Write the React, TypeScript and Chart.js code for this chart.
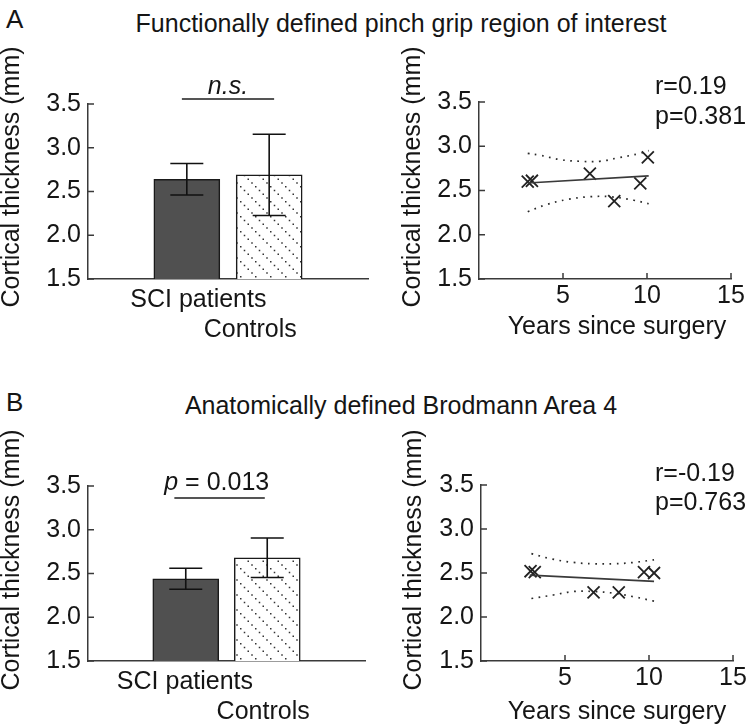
import React, { useEffect, useRef } from 'react';
import { Chart, registerables } from 'chart.js';

Chart.register(...registerables);

const FONT = '"Liberation Sans", Arial, Helvetica, sans-serif';
const INK = '#151515';
const AXIS = '#3a3a3a';
const DARK = '#505050';

// ---------- data ----------
const groups = ['SCI patients', 'Controls'];
const barPos = [1, 2];
const yTicks = [1.5, 2.0, 2.5, 3.0, 3.5];
const yearTicks = [5, 10, 15];

// A: functionally defined pinch grip ROI
const roiMeans = [2.64, 2.69];
const roiErrs = [0.18, 0.465];
const roiLabelPos = [1.14, 1.77];
const roiYears = [2.9, 3.15, 6.6, 8.05, 9.6, 10.05];
const roiThick = [2.6, 2.61, 2.69, 2.38, 2.58, 2.875];
const roiFitX = [2.9, 10.1];
const roiFitY = [2.585, 2.665];
const roiUpperX = [2.9, 3.6, 4.8, 6.0, 7.2, 8.3, 9.6, 10.1];
const roiUpperY = [2.92, 2.9, 2.85, 2.83, 2.83, 2.87, 2.92, 2.95];
const roiLowerX = [2.9, 4.0, 5.3, 6.6, 7.8, 9.2, 10.1];
const roiLowerY = [2.26, 2.34, 2.4, 2.43, 2.43, 2.39, 2.35];
const roiStats = ['r=0.19', 'p=0.381'];

// B: anatomically defined BA4
const ba4Means = [2.44, 2.68];
const ba4Errs = [0.12, 0.225];
const ba4LabelPos = [0.99, 1.95];
const ba4Years = [2.95, 3.2, 6.7, 8.2, 9.7, 10.3];
const ba4Thick = [2.52, 2.51, 2.28, 2.28, 2.51, 2.5];
const ba4FitX = [2.9, 10.3];
const ba4FitY = [2.475, 2.405];
const ba4UpperX = [3.0, 4.2, 5.5, 6.7, 7.9, 9.1, 10.3];
const ba4UpperY = [2.72, 2.66, 2.62, 2.605, 2.605, 2.62, 2.65];
const ba4LowerX = [3.0, 4.3, 5.5, 6.7, 7.9, 9.1, 10.3];
const ba4LowerY = [2.21, 2.25, 2.29, 2.29, 2.27, 2.23, 2.18];
const ba4Stats = ['r=-0.19', 'p=0.763'];

const Y_TITLE = 'Cortical thickness (mm)';
const X_TITLE = 'Years since surgery';

const zip = (xs: number[], ys: number[]) => xs.map((x, i) => ({ x, y: ys[i] }));

function font(size = 25, italic = false) {
  return `${italic ? 'italic ' : ''}${size}px ${FONT}`;
}

type TextPart = { t: string; italic?: boolean };
type TextItem = { parts: TextPart[]; x: number; y: number; rot?: number; align?: 'left' | 'center' };

function drawTexts(ctx: CanvasRenderingContext2D, items: TextItem[]) {
  ctx.save();
  ctx.fillStyle = INK;
  ctx.textBaseline = 'middle';
  ctx.textAlign = 'left';
  items.forEach((it) => {
    ctx.save();
    ctx.translate(it.x, it.y);
    if (it.rot) ctx.rotate(it.rot);
    let total = 0;
    it.parts.forEach((p) => {
      ctx.font = font(25, p.italic);
      total += ctx.measureText(p.t).width;
    });
    let cx = it.align === 'left' ? 0 : -total / 2;
    it.parts.forEach((p) => {
      ctx.font = font(25, p.italic);
      ctx.fillText(p.t, cx, 0);
      cx += ctx.measureText(p.t).width;
    });
    ctx.restore();
  });
  ctx.restore();
}

function makeHatch(ctx: CanvasRenderingContext2D) {
  const c = document.createElement('canvas');
  c.width = 15;
  c.height = 15;
  const g = c.getContext('2d')!;
  g.fillStyle = '#ffffff';
  g.fillRect(0, 0, 15, 15);
  g.fillStyle = '#333333';
  for (let i = 0; i < 4; i++) {
    const p = i * 3.75;
    g.fillRect(p, p, 1.5, 1.5);
  }
  return ctx.createPattern(c, 'repeat')!;
}

type Layout = { padTop: number; padRight: number; yW: number; xH: number };

function inwardTicks(xt: number[] | null) {
  return {
    id: 'inwardTicks',
    afterDraw(chart: any) {
      const { ctx, chartArea: a, scales } = chart;
      ctx.save();
      ctx.strokeStyle = AXIS;
      ctx.lineWidth = 1.5;
      ctx.beginPath();
      yTicks.forEach((v) => {
        const py = scales.y.getPixelForValue(v);
        ctx.moveTo(a.left, py);
        ctx.lineTo(a.left + 6, py);
      });
      if (xt) {
        xt.forEach((v) => {
          const px = scales.x.getPixelForValue(v);
          ctx.moveTo(px, a.bottom);
          ctx.lineTo(px, a.bottom - 6);
        });
      }
      ctx.stroke();
      ctx.restore();
    },
  };
}

function yScale(L: Layout) {
  return {
    type: 'linear',
    min: 1.5,
    max: 3.5,
    beginAtZero: false,
    afterBuildTicks: (s: any) => {
      s.ticks = yTicks.map((v) => ({ value: v }));
    },
    afterFit: (s: any) => {
      s.width = L.yW;
    },
    ticks: {
      callback: (v: number) => Number(v).toFixed(1),
      font: { family: FONT, size: 25 },
      color: INK,
      padding: 7,
    },
    grid: { display: false, drawTicks: false },
    border: { display: true, color: AXIS, width: 1.5 },
  };
}

function barConfig(
  ctx: CanvasRenderingContext2D,
  means: number[],
  errs: number[],
  labelPos: number[],
  L: Layout,
  sig: { x0: number; x1: number; lineY: number; textX: number; textY: number; parts: TextPart[] },
  yTitlePos: { x: number; y: number }
) {
  const hatch = makeHatch(ctx);
  const errPlugin = {
    id: 'errbars',
    afterDatasetsDraw(chart: any) {
      const { ctx: c, scales } = chart;
      c.save();
      c.strokeStyle = '#111';
      c.lineWidth = 1.6;
      const cap = 16.5;
      barPos.forEach((p, i) => {
        const px = scales.x.getPixelForValue(p);
        const hi = scales.y.getPixelForValue(means[i] + errs[i]);
        const lo = scales.y.getPixelForValue(means[i] - errs[i]);
        c.beginPath();
        c.moveTo(px, hi);
        c.lineTo(px, lo);
        c.moveTo(px - cap, hi);
        c.lineTo(px + cap, hi);
        c.moveTo(px - cap, lo);
        c.lineTo(px + cap, lo);
        c.stroke();
      });
      // significance bar
      c.strokeStyle = '#555';
      c.lineWidth = 2;
      c.beginPath();
      c.moveTo(scales.x.getPixelForValue(sig.x0), sig.lineY);
      c.lineTo(scales.x.getPixelForValue(sig.x1), sig.lineY);
      c.stroke();
      c.restore();
      drawTexts(c, [
        { parts: sig.parts, x: scales.x.getPixelForValue(sig.textX), y: sig.textY },
        { parts: [{ t: Y_TITLE }], x: yTitlePos.x, y: yTitlePos.y, rot: -Math.PI / 2 },
      ]);
    },
  };
  return {
    type: 'bar',
    data: {
      datasets: [
        {
          data: zip(barPos, means),
          backgroundColor: [DARK, hatch],
          borderColor: '#1a1a1a',
          borderWidth: 1.5,
          borderSkipped: false,
          barThickness: 66,
        },
      ],
    },
    options: {
      responsive: false,
      animation: false,
      devicePixelRatio: 1,
      events: [],
      layout: { padding: { top: L.padTop, right: L.padRight, left: 0, bottom: 0 } },
      plugins: { legend: { display: false }, tooltip: { enabled: false } },
      scales: {
        x: {
          type: 'linear',
          min: -0.2,
          max: 3.2,
          offset: false,
          afterBuildTicks: (s: any) => {
            s.ticks = labelPos.map((v) => ({ value: v }));
          },
          afterFit: (s: any) => {
            s.height = L.xH;
          },
          ticks: {
            callback: (_v: number, i: number) => (i === 0 ? groups[0] : ['', groups[1]]),
            font: { family: FONT, size: 25, lineHeight: 1.2 },
            color: INK,
            padding: 6,
            autoSkip: false,
            maxRotation: 0,
          },
          grid: { display: false, drawTicks: false },
          border: { display: true, color: AXIS, width: 1.5 },
        },
        y: yScale(L),
      },
    },
    plugins: [errPlugin, inwardTicks(null)],
  };
}

function scatterConfig(
  d: {
    years: number[];
    thick: number[];
    fitX: number[];
    fitY: number[];
    upX: number[];
    upY: number[];
    loX: number[];
    loY: number[];
    stats: string[];
  },
  L: Layout,
  pos: { yTitle: { x: number; y: number }; xTitle: { x: number; y: number }; stats: { x: number; y0: number; y1: number } }
) {
  const textPlugin = {
    id: 'scatterTexts',
    afterDraw(chart: any) {
      drawTexts(chart.ctx, [
        { parts: [{ t: Y_TITLE }], x: pos.yTitle.x, y: pos.yTitle.y, rot: -Math.PI / 2 },
        { parts: [{ t: X_TITLE }], x: pos.xTitle.x, y: pos.xTitle.y },
        { parts: [{ t: d.stats[0] }], x: pos.stats.x, y: pos.stats.y0, align: 'left' },
        { parts: [{ t: d.stats[1] }], x: pos.stats.x, y: pos.stats.y1, align: 'left' },
      ]);
    },
  };
  const dotted = {
    showLine: true,
    borderColor: '#2a2a2a',
    borderWidth: 1.7,
    borderDash: [1.7, 5.5],
    pointRadius: 0,
    tension: 0.4,
    fill: false,
  };
  return {
    type: 'scatter',
    data: {
      datasets: [
        { ...dotted, data: zip(d.upX, d.upY) },
        { ...dotted, data: zip(d.loX, d.loY) },
        {
          data: zip(d.fitX, d.fitY),
          showLine: true,
          borderColor: '#3a3a3a',
          borderWidth: 1.7,
          pointRadius: 0,
          fill: false,
        },
        {
          data: zip(d.years, d.thick),
          showLine: false,
          pointStyle: 'crossRot',
          pointRadius: 8.5,
          borderColor: '#222',
          backgroundColor: '#222',
          pointBorderWidth: 1.8,
          borderWidth: 1.8,
        },
      ],
    },
    options: {
      responsive: false,
      animation: false,
      devicePixelRatio: 1,
      events: [],
      layout: { padding: { top: L.padTop, right: L.padRight, left: 0, bottom: 0 } },
      plugins: { legend: { display: false }, tooltip: { enabled: false } },
      scales: {
        x: {
          type: 'linear',
          min: 0,
          max: 15,
          afterBuildTicks: (s: any) => {
            s.ticks = yearTicks.map((v) => ({ value: v }));
          },
          afterFit: (s: any) => {
            s.height = L.xH;
          },
          ticks: {
            callback: (v: number) => String(v),
            font: { family: FONT, size: 25, lineHeight: 1.2 },
            color: INK,
            padding: 2.5,
            autoSkip: false,
            maxRotation: 0,
          },
          grid: { display: false, drawTicks: false },
          border: { display: true, color: AXIS, width: 1.5 },
        },
        y: yScale(L),
      },
    },
    plugins: [textPlugin, inwardTicks(yearTicks)],
  };
}

function ChartBox(props: { left: number; top: number; width: number; height: number; make: (ctx: CanvasRenderingContext2D) => any }) {
  const ref = useRef<HTMLCanvasElement>(null);
  useEffect(() => {
    const cv = ref.current!;
    const chart = new Chart(cv, props.make(cv.getContext('2d')!));
    return () => chart.destroy();
  }, []);
  return (
    <canvas
      ref={ref}
      width={props.width}
      height={props.height}
      style={{ position: 'absolute', left: props.left, top: props.top, width: props.width, height: props.height }}
    />
  );
}

const textStyle: React.CSSProperties = {
  position: 'absolute',
  fontFamily: FONT,
  fontSize: 25,
  lineHeight: '30px',
  height: 30,
  color: INK,
  whiteSpace: 'nowrap',
};

export default function App() {
  const TL: Layout = { padTop: 68, padRight: 7, yW: 88, xH: 101 };
  const TR: Layout = { padTop: 66, padRight: 19, yW: 104, xH: 101 };
  const BL: Layout = { padTop: 68, padRight: 10, yW: 88, xH: 66 };
  const BR: Layout = { padTop: 67, padRight: 17, yW: 106, xH: 66 };
  return (
    <div style={{ position: 'absolute', left: 0, top: 0, width: 750, height: 727, background: '#fff', overflow: 'hidden' }}>
      <div style={{ ...textStyle, left: 6, top: 4, fontSize: 26 }}>A</div>
      <div style={{ ...textStyle, left: 101, width: 600, top: 8, textAlign: 'center' }}>
        Functionally defined pinch grip region of interest
      </div>
      <div style={{ ...textStyle, left: 6, top: 387, fontSize: 26 }}>B</div>
      <div style={{ ...textStyle, left: 101, width: 600, top: 390, textAlign: 'center' }}>
        Anatomically defined Brodmann Area 4
      </div>
      <ChartBox
        left={0}
        top={36}
        width={375}
        height={344}
        make={(ctx) =>
          barConfig(
            ctx,
            roiMeans,
            roiErrs,
            roiLabelPos,
            TL,
            { x0: 0.94, x1: 2.06, lineY: 63, textX: 1.5, textY: 51, parts: [{ t: 'n.s.', italic: true }] },
            { x: 12, y: 141 }
          )
        }
      />
      <ChartBox
        left={375}
        top={36}
        width={375}
        height={344}
        make={() =>
          scatterConfig(
            { years: roiYears, thick: roiThick, fitX: roiFitX, fitY: roiFitY, upX: roiUpperX, upY: roiUpperY, loX: roiLowerX, loY: roiLowerY, stats: roiStats },
            TR,
            { yTitle: { x: 38, y: 141 }, xTitle: { x: 242, y: 291 }, stats: { x: 280, y0: 51, y1: 81 } }
          )
        }
      />
      <ChartBox
        left={0}
        top={418}
        width={375}
        height={309}
        make={(ctx) =>
          barConfig(
            ctx,
            ba4Means,
            ba4Errs,
            ba4LabelPos,
            BL,
            { x0: 0.86, x1: 1.97, lineY: 80, textX: 1.38, textY: 65, parts: [{ t: 'p', italic: true }, { t: ' = 0.013' }] },
            { x: 12, y: 142 }
          )
        }
      />
      <ChartBox
        left={375}
        top={418}
        width={375}
        height={309}
        make={() =>
          scatterConfig(
            { years: ba4Years, thick: ba4Thick, fitX: ba4FitX, fitY: ba4FitY, upX: ba4UpperX, upY: ba4UpperY, loX: ba4LowerX, loY: ba4LowerY, stats: ba4Stats },
            BR,
            { yTitle: { x: 39, y: 142 }, xTitle: { x: 242, y: 294 }, stats: { x: 280, y0: 56, y1: 85 } }
          )
        }
      />
    </div>
  );
}
